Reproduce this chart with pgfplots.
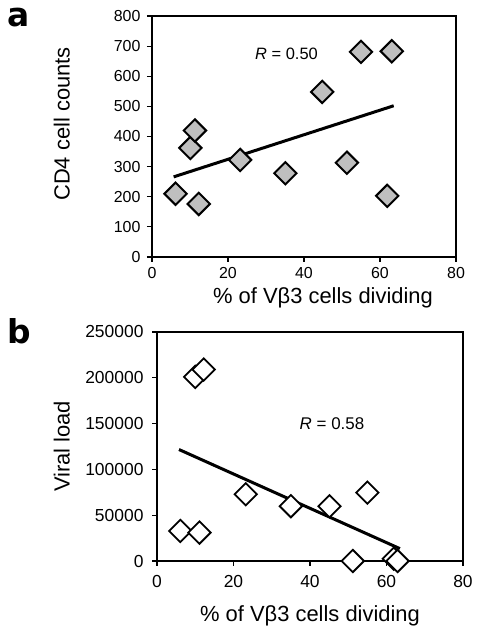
\documentclass[border=0pt]{standalone}
\usepackage{fontspec}
\setmainfont{Liberation Sans}
\newfontfamily\letterfont{DejaVu Sans}
\usepackage{pgfplots}
\pgfplotsset{compat=1.18}
\begin{document}
\begin{tikzpicture}
\path[use as bounding box] (0,0) rectangle (477bp,635bp);
\node[anchor=north west, inner sep=0pt] at (7bp,627bp) {\letterfont\fontsize{33}{33}\selectfont\bfseries a};
\node[anchor=north west, inner sep=0pt] at (7bp,317bp) {\letterfont\fontsize{33}{33}\selectfont\bfseries b};
\pgfplotsset{
  common/.style={
    scale only axis,
    anchor=south west,
    xmin=0, xmax=80,
    xtick={0,20,40,60,80},
    axis line style={line width=2.2bp},
    every tick/.style={black, line width=1.2bp},
    tick align=outside,
    major tick length=5bp,
    xtick pos=bottom, ytick pos=left,
    /pgf/number format/assume math mode=true,
    clip=false,
    scaled y ticks=false,
    yticklabel style={/pgf/number format/fixed, /pgf/number format/1000 sep={}},
    xlabel={\% of Vβ3 cells dividing},
  }
}
\begin{axis}[common,
  at={(152bp,378bp)},
  width=304bp, height=241bp,
  ymin=0, ymax=800,
  ytick={0,100,...,800},
  tick label style={font=\fontsize{16}{19}\selectfont},
  xticklabel style={yshift=-2bp},
  yticklabel style={xshift=-3bp},
  label style={font=\fontsize{22}{26}\selectfont},
  xlabel style={at={(axis description cs:0.5625,-0.1245)}, anchor=north, inner sep=0pt},
  ylabel style={at={(axis description cs:-0.27,0.552)}, anchor=south, inner sep=0pt},
  ylabel={CD4 cell counts},
]
\addplot[only marks, mark=square*, mark size=7.9bp,
  mark options={rotate=45, fill=gray!50, draw=black, line width=2bp}]
  coordinates {
  (6.2,210) (10.1,362) (11.3,420) (12.3,176) (23.2,322) (35.1,278)
  (44.8,548) (51.3,313) (55.0,681) (63.1,683) (61.9,203)
  };
\addplot[black, line width=3bp, no marks] coordinates {(5.7,266) (63.6,502)};
\node[font=\fontsize{16.5}{19}\selectfont] at (axis cs:35.4,674) {\textit{R} = 0.50};
\end{axis}
\begin{axis}[common,
  at={(157bp,74bp)},
  width=306bp, height=229bp,
  ymin=0, ymax=250000,
  ytick={0,50000,...,250000},
  tick label style={font=\fontsize{17.5}{20}\selectfont},
  xticklabel style={yshift=-6bp},
  yticklabel style={xshift=-5bp},
  label style={font=\fontsize{22}{26}\selectfont},
  xlabel style={at={(axis description cs:0.5,-0.192)}, anchor=north, inner sep=0pt},
  ylabel style={at={(axis description cs:-0.2843,0.5)}, anchor=south, inner sep=0pt},
  ylabel={Viral load},
]
\addplot[only marks, mark=square*, mark size=7.9bp,
  mark options={rotate=45, fill=white, draw=black, line width=1.8bp}]
  coordinates {
  (6.1,32800) (11.1,31000) (10.0,201000) (12.2,209000) (23.2,72900)
  (35.0,59800) (45.1,59800) (55.0,74700) (51.2,0) (61.9,2500) (62.9,0)
  };
\addplot[black, line width=3bp, no marks] coordinates {(5.75,121700) (63.5,13500)};
\node[font=\fontsize{17}{20}\selectfont] at (axis cs:45.75,150000) {\textit{R} = 0.58};
\end{axis}
\end{tikzpicture}
\end{document}
